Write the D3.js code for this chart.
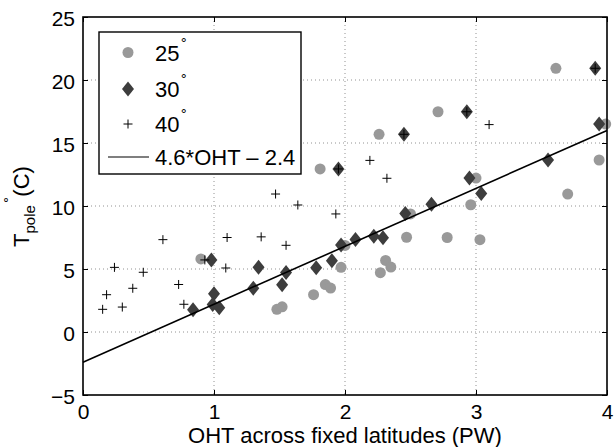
<!DOCTYPE html>
<html>
<head>
<meta charset="utf-8">
<script src="https://cdn.jsdelivr.net/npm/d3@7"></script>
<style>
  html, body { margin: 0; padding: 0; background: #fff; }
  svg { display: block; font-family: "Liberation Sans", Arial, Helvetica, sans-serif; }
</style>
</head>
<body>
<svg id="chart" width="614" height="447"></svg>
<script>
// ---- data ----
const xTicks = [0, 1, 2, 3, 4];
const yTicks = [-5, 0, 5, 10, 15, 20, 25];

const oht25 = [0.90, 1.48, 1.52, 1.76, 1.85, 1.89, 1.97, 2.00, 1.81, 2.26, 2.27, 2.31, 2.35, 2.47, 2.50, 2.71, 2.78, 2.96, 3.00, 3.03, 3.61, 3.70, 3.94, 3.99];
const tpole25 = [5.8, 1.8, 2.0, 2.96, 3.76, 3.49, 5.13, 6.87, 12.94, 15.69, 4.71, 5.68, 5.15, 7.52, 9.37, 17.48, 7.5, 10.1, 12.22, 7.33, 20.93, 10.95, 13.65, 16.5];

const oht30 = [0.84, 0.98, 1.00, 0.99, 1.04, 1.30, 1.34, 1.52, 1.55, 1.78, 1.90, 1.97, 2.08, 2.22, 2.29, 2.46, 2.66, 1.95, 2.45, 2.93, 2.95, 3.04, 3.55, 3.91, 3.94];
const tpole30 = [1.77, 5.72, 3.03, 2.18, 1.93, 3.48, 5.13, 3.75, 4.72, 5.1, 5.66, 6.9, 7.35, 7.6, 7.48, 9.4, 10.14, 12.94, 15.69, 17.48, 12.22, 11.0, 13.65, 20.93, 16.5];

const oht40 = [0.15, 0.18, 0.24, 0.30, 0.38, 0.46, 0.61, 0.73, 0.77, 0.93, 1.09, 1.10, 1.36, 1.55, 1.47, 1.64, 1.93, 1.95, 2.19, 2.32, 2.45, 2.93, 3.10, 3.91];
const tpole40 = [1.8, 2.96, 5.13, 1.98, 3.47, 4.74, 7.33, 3.77, 2.2, 5.72, 5.08, 7.5, 7.55, 6.88, 10.95, 10.08, 9.37, 12.94, 13.62, 12.2, 15.69, 17.48, 16.46, 20.93];

const fitSlope = 4.6, fitIntercept = -2.4;
const fitRange = [0, 4];

const legendLabels = ["25", "30", "40", "4.6*OHT \u2013 2.4"];

// ---- layout ----
const svg = d3.select("#chart");
const L = 83, R = 607, T = 17, B = 395;
const x = d3.scaleLinear().domain([0, 4]).range([L, R]);
const y = d3.scaleLinear().domain([-5, 25]).range([B, T]);

const gray = "#999999", dark = "#3d3d3d";

// grid
const grid = svg.append("g");
xTicks.filter(t => t > 0 && t < 4).forEach(t => {
  grid.append("line").attr("x1", x(t)).attr("x2", x(t)).attr("y1", T).attr("y2", B)
    .attr("stroke", "#777").attr("stroke-width", 0.8).attr("stroke-dasharray", "1,3");
});
yTicks.filter(t => t > -5 && t < 25).forEach(t => {
  grid.append("line").attr("x1", L).attr("x2", R).attr("y1", y(t)).attr("y2", y(t))
    .attr("stroke", "#777").attr("stroke-width", 0.8).attr("stroke-dasharray", "1,3");
});

// axes (inward ticks on all sides)
const tl = 5;
svg.append("g").attr("transform", `translate(0,${B})`)
  .call(d3.axisBottom(x).tickValues(xTicks).tickSize(-tl).tickPadding(9).tickFormat(d3.format("d")))
  .call(g => { g.select(".domain").remove(); g.selectAll("text").attr("font-size", 21).attr("fill", "#000").attr("font-family", "Liberation Sans, Arial, sans-serif"); g.selectAll("line").attr("stroke", "#000"); });
svg.append("g").attr("transform", `translate(0,${T})`)
  .call(d3.axisTop(x).tickValues(xTicks).tickSize(-tl).tickFormat(""))
  .call(g => { g.select(".domain").remove(); g.selectAll("line").attr("stroke", "#000"); });
svg.append("g").attr("transform", `translate(${L},0)`)
  .call(d3.axisLeft(y).tickValues(yTicks).tickSize(-tl).tickPadding(8).tickFormat(d => d < 0 ? "\u2212" + Math.abs(d) : d))
  .call(g => { g.select(".domain").remove(); g.selectAll("text").attr("font-size", 21).attr("fill", "#000").attr("dy", "0.42em").attr("font-family", "Liberation Sans, Arial, sans-serif"); g.selectAll("line").attr("stroke", "#000"); });
svg.append("g").attr("transform", `translate(${R},0)`)
  .call(d3.axisRight(y).tickValues(yTicks).tickSize(-tl).tickFormat(""))
  .call(g => { g.select(".domain").remove(); g.selectAll("line").attr("stroke", "#000"); });

// markers
function diamondPath(w, h) { return `M0,${-h}L${w},0L0,${h}L${-w},0Z`; }
function plusPath(a) { return `M${-a},0H${a}M0,${-a}V${a}`; }

const pts25 = oht25.map((v, i) => [v, tpole25[i]]);
const pts30 = oht30.map((v, i) => [v, tpole30[i]]);
const pts40 = oht40.map((v, i) => [v, tpole40[i]]);

const plot = svg.append("g");
plot.selectAll("circle.s25").data(pts25).join("circle")
  .attr("cx", d => x(d[0])).attr("cy", d => y(d[1])).attr("r", 5.5).attr("fill", gray);
plot.selectAll("path.s30").data(pts30).join("path").attr("class", "s30")
  .attr("transform", d => `translate(${x(d[0])},${y(d[1])})`)
  .attr("d", diamondPath(6, 7.5)).attr("fill", dark);
plot.selectAll("path.s40").data(pts40).join("path").attr("class", "s40")
  .attr("transform", d => `translate(${x(d[0])},${y(d[1])})`)
  .attr("d", plusPath(4.5)).attr("stroke", "#000").attr("stroke-width", 1).attr("fill", "none");

// fit line
plot.append("line")
  .attr("x1", x(fitRange[0])).attr("y1", y(fitSlope * fitRange[0] + fitIntercept))
  .attr("x2", x(fitRange[1])).attr("y2", y(fitSlope * fitRange[1] + fitIntercept))
  .attr("stroke", "#000").attr("stroke-width", 1.6);

// frame
svg.append("rect").attr("x", L).attr("y", T).attr("width", R - L).attr("height", B - T)
  .attr("fill", "none").attr("stroke", "#000").attr("stroke-width", 1.6);

// legend
const lg = svg.append("g");
lg.append("rect").attr("x", 99).attr("y", 32).attr("width", 202).attr("height", 142)
  .attr("fill", "#fff").attr("stroke", "#000").attr("stroke-width", 1.4);
const rowY = [52.5, 89, 124, 157];
const mx = 128, tx = 155;
lg.append("circle").attr("cx", mx).attr("cy", rowY[0]).attr("r", 5.5).attr("fill", gray);
lg.append("path").attr("transform", `translate(${mx},${rowY[1]})`).attr("d", diamondPath(6, 7.5)).attr("fill", dark);
lg.append("path").attr("transform", `translate(${mx},${rowY[2]})`).attr("d", plusPath(4.5)).attr("stroke", "#000").attr("fill", "none");
lg.append("line").attr("x1", 108).attr("x2", 149).attr("y1", rowY[3]).attr("y2", rowY[3]).attr("stroke", "#000").attr("stroke-width", 1.2);
legendLabels.forEach((lab, i) => {
  const t = lg.append("text").attr("x", tx).attr("y", rowY[i] + 8).attr("font-size", 22).attr("fill", "#000");
  t.append("tspan").attr("fill", "#000").text(lab);
  if (i < 3) t.append("tspan").attr("fill", "#000").attr("font-family", "DejaVu Sans, sans-serif")
    .attr("font-size", 13).attr("dx", 1).attr("dy", -14).text("\u00B0");
});

// axis labels
svg.append("text").attr("x", (L + R) / 2).attr("y", 443).attr("text-anchor", "middle")
  .attr("font-size", 22).attr("fill", "#000").text("OHT across fixed latitudes (PW)");

const yl = svg.append("text").attr("transform", "translate(29,247) rotate(-90)")
  .attr("font-size", 22).attr("fill", "#000");
yl.append("tspan").attr("fill", "#000").text("T");
yl.append("tspan").attr("fill", "#000").attr("font-size", 15).attr("dy", 6).text("pole");
yl.append("tspan").attr("fill", "#000").attr("font-family", "DejaVu Sans, sans-serif")
  .attr("font-size", 13).attr("dx", 2).attr("dy", -22).text("\u00B0");
yl.append("tspan").attr("fill", "#000").attr("font-size", 22).attr("dy", 16).attr("dx", 0).text("(C)");
</script>
</body>
</html>
